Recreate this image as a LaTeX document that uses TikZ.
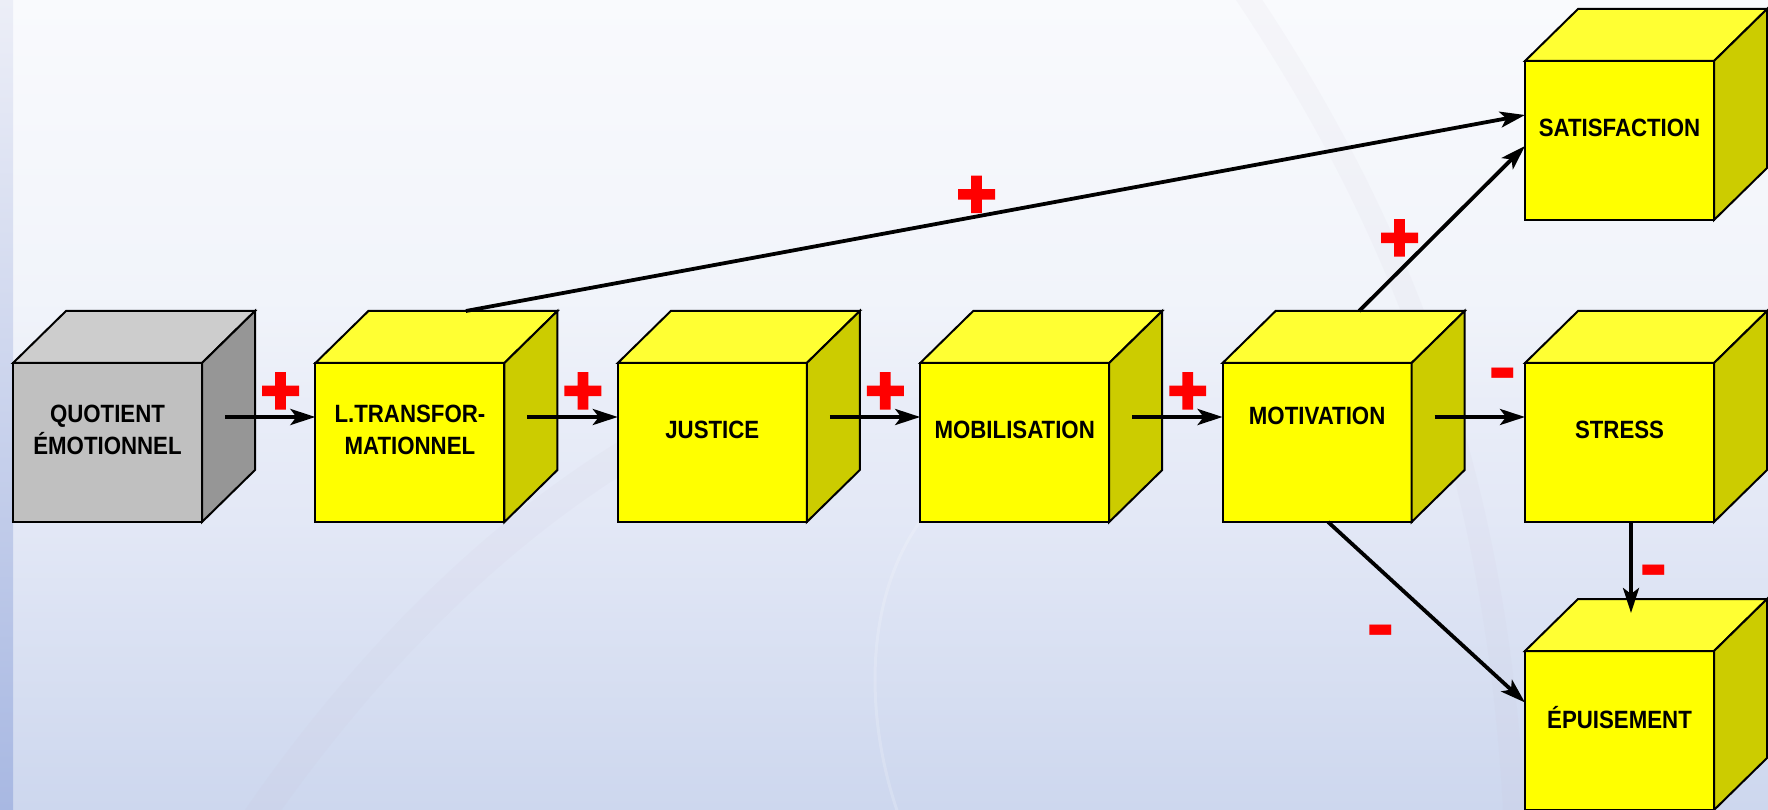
\documentclass[tikz,border=0pt]{standalone}
\usepackage{fontspec}
\setmainfont{Liberation Sans}[FakeStretch=0.89]
\newfontfamily\signfont{Liberation Sans}[FakeBold=5]
\newfontfamily\minusfont{Liberation Sans}
\usetikzlibrary{arrows.meta,calc}
\definecolor{yfront}{HTML}{FFFF00}
\definecolor{ytop}{HTML}{FFFF33}
\definecolor{yside}{HTML}{CCCC00}
\definecolor{gfront}{HTML}{C0C0C0}
\definecolor{gtop}{HTML}{CDCDCD}
\definecolor{gside}{HTML}{969696}
\definecolor{bgA}{HTML}{CDD7EE}
\definecolor{bgB}{HTML}{E3E8F6}
\definecolor{bgC}{HTML}{E9EDF8}
\definecolor{bgD}{HTML}{F1F4FA}
\definecolor{bgE}{HTML}{F9FAFD}
\definecolor{stripbot}{HTML}{A8B8E2}
\definecolor{striptop}{HTML}{ECEEF7}
\definecolor{swoosh}{HTML}{C8BCD0}
\definecolor{signred}{HTML}{FF0000}
\pgfdeclareverticalshading{bgshade}{100bp}{color(0bp)=(bgA); color(25bp)=(bgA); color(43bp)=(bgB); color(50bp)=(bgC); color(56.5bp)=(bgD); color(75bp)=(bgE); color(100bp)=(bgE)}
\tikzset{
  edge/.style={draw=black, line width=2pt, line join=miter},
  face/.style={edge, minimum width=189pt, minimum height=159pt, inner sep=0pt, outer sep=0pt},
  lbl/.style={align=center, inner sep=0pt, font=\fontsize{25}{32}\selectfont\bfseries},
  arr/.style={line width=3.8pt, -{Stealth[length=25pt, width=16pt, inset=6pt]}},
  plussign/.style={inner sep=0pt, text=signred, font=\signfont\fontsize{67}{67}\selectfont\bfseries},
  minussign/.style={inner sep=0pt, text=signred, font=\minusfont\fontsize{86}{86}\selectfont\bfseries},
  faint/.style={draw=swoosh, opacity=0.08, line cap=round},
}
\newcommand\boxcube[6]{%
  \node[face, fill=#4] (#1) at (#2,#3) {};
  \draw[edge, fill=#5] (#1.north west) -- ++(53,52) -- ++(189,0) -- (#1.north east) -- cycle;
  \draw[edge, fill=#6] (#1.north east) -- ++(53,52) -- ++(0,-159) -- (#1.south east) -- cycle;
}
\begin{document}
\begin{tikzpicture}[x=1pt, y=1pt]
\useasboundingbox (0,0) rectangle (1768,809);
% background
\shade[shading=bgshade] (0,0) rectangle (1768,809);
\begin{scope}
\clip (0,0) rectangle (1768,809);
\draw[faint, line width=30pt] (250,-20) .. controls (400,200) and (600,380) .. (820,440);
\draw[faint, line width=22pt] (1235,830) .. controls (1420,560) and (1500,300) .. (1515,-20);
\draw[draw=white, opacity=0.18, line width=3pt] (960,330) .. controls (860,250) and (860,100) .. (900,-10);
\end{scope}
\shade[bottom color=stripbot, top color=striptop] (0,0) rectangle (13,809);

% cubes
\boxcube{qe}{107.5}{366.5}{gfront}{gtop}{gside}
\boxcube{lt}{409.9}{366.5}{yfront}{ytop}{yside}
\boxcube{ju}{712.3}{366.5}{yfront}{ytop}{yside}
\boxcube{mb}{1014.7}{366.5}{yfront}{ytop}{yside}
\boxcube{mo}{1317.1}{366.5}{yfront}{ytop}{yside}
\boxcube{st}{1619.5}{366.5}{yfront}{ytop}{yside}
\boxcube{sa}{1619.5}{668.5}{yfront}{ytop}{yside}
\boxcube{ep}{1619.5}{78.5}{yfront}{ytop}{yside}

% labels
\node[lbl] (qe-t) at ([yshift=12.5pt]qe.center) {QUOTIENT\\ÉMOTIONNEL};
\node[lbl] (lt-t) at ([yshift=12.5pt]lt.center) {L.TRANSFOR-\\MATIONNEL};
\node[lbl] (ju-t) at ([yshift=12.5pt]ju.center) {JUSTICE};
\node[lbl] (mb-t) at ([yshift=12.5pt]mb.center) {MOBILISATION};
\node[lbl] (mo-t) at ([yshift=27pt]mo.center) {MOTIVATION};
\node[lbl] (st-t) at ([yshift=12.5pt]st.center) {STRESS};
\node[lbl] (sa-t) at ([yshift=12.5pt]sa.center) {SATISFACTION};
\node[lbl] (ep-t) at ([yshift=12.5pt]ep.center) {ÉPUISEMENT};

% connectors
\draw[arr] ([xshift=23pt,yshift=25.5pt]qe.east) -- ([yshift=25.5pt]lt.west);
\draw[arr] ([xshift=23pt,yshift=25.5pt]lt.east) -- ([yshift=25.5pt]ju.west);
\draw[arr] ([xshift=23pt,yshift=25.5pt]ju.east) -- ([yshift=25.5pt]mb.west);
\draw[arr] ([xshift=23pt,yshift=25.5pt]mb.east) -- ([yshift=25.5pt]mo.west);
\draw[arr] ([xshift=23pt,yshift=25.5pt]mo.east) -- ([yshift=25.5pt]st.west);
\draw[arr] ($(lt.north)+(56,52)$) -- ([yshift=25.5pt]sa.west);
\draw[arr] ($(mo.north)+(42,52)$) -- ([yshift=-5.5pt]sa.west);
\draw[arr] ([xshift=11pt]mo.south) -- ([yshift=28pt]ep.west);
\draw[arr] ([xshift=11.5pt]st.south) -- ([xshift=11.5pt,yshift=38pt]ep.north);

% signs
\node[plussign] (p1) at (280.5,415.5) {+};
\node[plussign] (p2) at (582.9,415.5) {+};
\node[plussign] (p3) at (885.3,415.5) {+};
\node[plussign] (p4) at (1187.7,415.5) {+};
\node[plussign] (p5) at (976.5,612) {+};
\node[plussign] (p6) at (1399.5,568.5) {+};
\node[minussign] (m1) at (1502.5,427) {-};
\node[minussign] (m2) at (1653.5,230) {-};
\node[minussign] (m3) at (1380.5,170.5) {-};
\end{tikzpicture}
\end{document}
